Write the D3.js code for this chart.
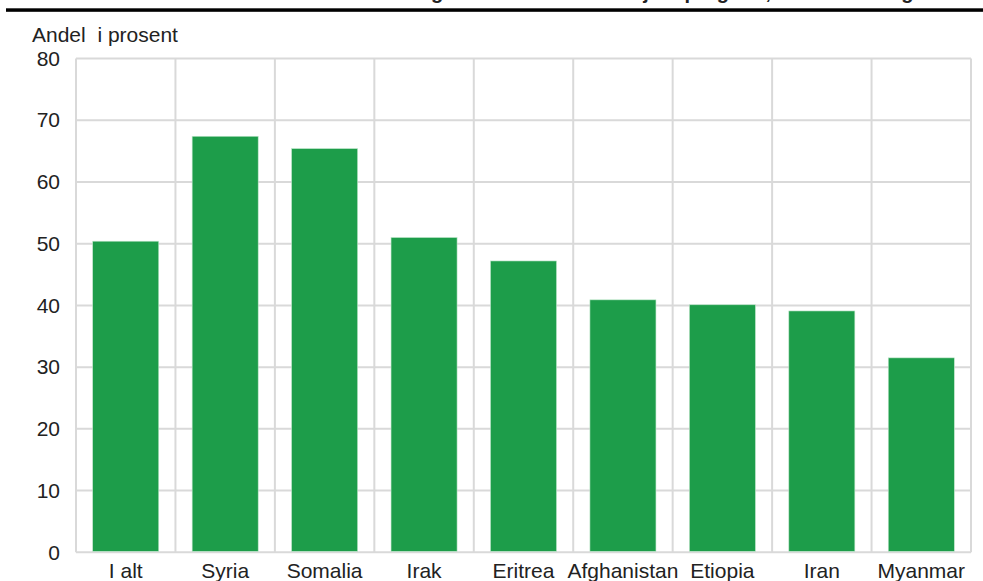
<!DOCTYPE html>
<html>
<head>
<meta charset="utf-8">
<script src="https://cdn.jsdelivr.net/npm/d3@7"></script>
<style>
  html, body { margin: 0; padding: 0; background: #fff; }
  svg { display: block; }
  text { font-family: "Liberation Sans", Arial, sans-serif; fill: #222; }
</style>
</head>
<body>
<svg id="chart" width="983" height="581"></svg>
<script>
const categories = ["I alt", "Syria", "Somalia", "Irak", "Eritrea", "Afghanistan", "Etiopia", "Iran", "Myanmar"];
const values = [50.4, 67.4, 65.4, 51.0, 47.2, 40.9, 40.1, 39.1, 31.5];
const yTicks = [0, 10, 20, 30, 40, 50, 60, 70, 80];
const yLabel = "Andel  i prosent";
const title = "Andel i arbeid eller utdanning ett år etter introduksjonsprogram, etter landbakgrunn";

(function () {
const svg = d3.select("#chart");
const pLeft = 76, pRight = 971, pTop = 58.5, pBottom = 552.3;
const fs = "21px";

const x = d3.scaleBand().domain(categories).range([pLeft, pRight])
  .paddingInner(0.336).paddingOuter(0.168);
const y = d3.scaleLinear().domain([0, 80]).range([pBottom, pTop]);

// clipped title + rule
svg.append("text").attr("x", 560).attr("y", -1).attr("text-anchor", "middle")
  .style("font-weight", "bold").style("font-size", "20px").text(title);
svg.append("rect").attr("x", 6).attr("y", 8.3).attr("width", 983 - 6).attr("height", 3.5).attr("fill", "#000");

const grid = svg.append("g");
grid.selectAll("line.h").data(yTicks).join("line").attr("class", "h")
  .attr("x1", pLeft).attr("x2", pRight)
  .attr("y1", d => y(d)).attr("y2", d => y(d))
  .attr("stroke", "#d9d9d9").attr("stroke-width", 2);
const step = x.step();
const bounds = d3.range(categories.length + 1).map(i => pLeft + i * step);
grid.selectAll("line.v").data(bounds).join("line").attr("class", "v")
  .attr("x1", d => d).attr("x2", d => d)
  .attr("y1", y(80)).attr("y2", y(0))
  .attr("stroke", "#d9d9d9").attr("stroke-width", 2);

svg.append("g").selectAll("rect").data(categories).join("rect")
  .attr("x", d => x(d)).attr("width", x.bandwidth())
  .attr("y", (d, i) => y(values[i]))
  .attr("height", (d, i) => y(0) - y(values[i]) - 1)
  .attr("fill", "#1d9d4a")
  .attr("stroke", "#bfe6cb").attr("stroke-width", 0.6);

const yAxis = d3.axisLeft(y).tickValues(yTicks).tickSize(0).tickPadding(0);
const gy = svg.append("g").attr("transform", "translate(60,0)").call(yAxis);
gy.select(".domain").remove();
gy.selectAll("text").style("font-size", fs).style("fill", "#222")
  .style("font-family", '"Liberation Sans", Arial, sans-serif');

const xAxis = d3.axisBottom(x).tickSize(0).tickPadding(0);
const gx = svg.append("g").attr("transform", `translate(0,${pBottom + 11})`).call(xAxis);
gx.select(".domain").remove();
gx.selectAll("text").style("font-size", fs).style("fill", "#222")
  .style("font-family", '"Liberation Sans", Arial, sans-serif');

svg.append("text").attr("x", 32).attr("y", 41.5).style("font-size", fs)
  .style("white-space", "pre").text(yLabel);
})();
</script>
</body>
</html>
